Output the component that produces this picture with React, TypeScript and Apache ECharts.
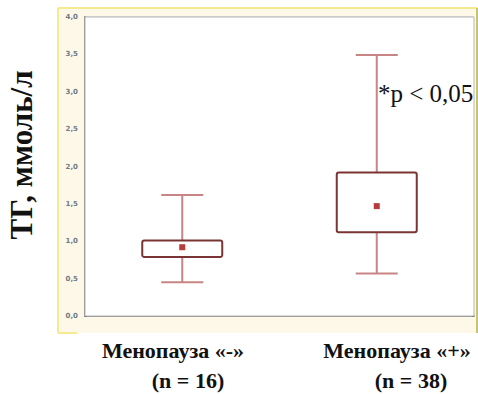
import React, { useEffect, useRef } from "react";
import * as echarts from "echarts";

// Groups on the x axis
const categories = ["Менопауза «-»", "Менопауза «+»"];
const groupSizes = ["(n = 16)", "(n = 38)"];

// Per group: lower whisker, box bottom, mean, box top, upper whisker (ммоль/л)
const whiskerLow = [0.45, 0.57];
const boxLow = [0.79, 1.12];
const meanValues = [0.92, 1.47];
const boxHigh = [1.01, 1.92];
const whiskerHigh = [1.62, 3.49];

// Y axis range
const yMin = 0;
const yMax = 4;
const yStep = 0.5;

const annotation = "*p < 0,05";
const yTitle = "ТГ, ммоль/л";

const SERIF = "'Liberation Serif', 'DejaVu Serif', 'Times New Roman', serif";

export default function App() {
  const ref = useRef<HTMLDivElement>(null);

  useEffect(() => {
    if (!ref.current) return;
    const chart = echarts.init(ref.current, undefined, { renderer: "svg" });

    const data = categories.map((_, i) => [
      i,
      whiskerLow[i],
      boxLow[i],
      meanValues[i],
      boxHigh[i],
      whiskerHigh[i],
    ]);

    const whiskerStyle = { stroke: "#c98585", lineWidth: 2 };

    const renderItem = (params: any, api: any) => {
      const c = api.value(0);
      const [x, yLo] = api.coord([c, api.value(1)]);
      const [, yQ1] = api.coord([c, api.value(2)]);
      const [, yMean] = api.coord([c, api.value(3)]);
      const [, yQ3] = api.coord([c, api.value(4)]);
      const [, yHi] = api.coord([c, api.value(5)]);
      const boxW = 80;
      const capW = 42;
      return {
        type: "group",
        children: [
          { type: "line", shape: { x1: x, y1: yHi, x2: x, y2: yQ3 }, style: whiskerStyle },
          { type: "line", shape: { x1: x, y1: yQ1, x2: x, y2: yLo }, style: whiskerStyle },
          { type: "line", shape: { x1: x - capW / 2, y1: yHi, x2: x + capW / 2, y2: yHi }, style: whiskerStyle },
          { type: "line", shape: { x1: x - capW / 2, y1: yLo, x2: x + capW / 2, y2: yLo }, style: whiskerStyle },
          {
            type: "rect",
            shape: { x: x - boxW / 2, y: yQ3, width: boxW, height: yQ1 - yQ3, r: 2 },
            style: { fill: "#ffffff", stroke: "#7a3434", lineWidth: 2 },
          },
          {
            type: "rect",
            shape: { x: x - 3, y: yMean - 3, width: 6, height: 6 },
            style: { fill: "#b83a3a" },
          },
        ],
      };
    };

    // Text positions of the two-line group captions
    const captionPos = [
      { x1: 173, x2: 188 },
      { x1: 397, x2: 411 },
    ];

    const captionTexts: any[] = [];
    categories.forEach((name, i) => {
      captionTexts.push({
        type: "text",
        x: captionPos[i].x1,
        y: 350,
        style: {
          text: name,
          font: `bold 22px ${SERIF}`,
          fill: "#111",
          align: "center",
          verticalAlign: "middle",
        },
      });
      captionTexts.push({
        type: "text",
        x: captionPos[i].x2,
        y: 380,
        style: {
          text: groupSizes[i],
          font: `bold 22px ${SERIF}`,
          fill: "#111",
          align: "center",
          verticalAlign: "middle",
        },
      });
    });

    chart.setOption({
      animation: false,
      backgroundColor: "#ffffff",
      grid: {
        left: 85,
        right: 4,
        top: 17,
        bottom: 78,
        show: true,
        backgroundColor: "#ffffff",
        borderColor: "#b4b4b4",
        borderWidth: 1,
        z: 2,
      },
      xAxis: {
        type: "category",
        data: categories,
        axisLine: { lineStyle: { color: "#8c8c8c", width: 2 } },
        axisTick: { alignWithLabel: true, length: 4, lineStyle: { color: "#b0b0b0" } },
        axisLabel: { show: false },
        splitLine: { show: false },
      },
      yAxis: [
        {
          type: "value",
          min: yMin,
          max: yMax,
          interval: yStep,
          axisLine: { show: true, lineStyle: { color: "#858585", width: 2 } },
          axisTick: { show: true, inside: true, length: 2, lineStyle: { color: "#555" } },
          axisLabel: {
            margin: 7,
            fontSize: 7,
            fontWeight: "bold",
            color: "#6f7a86",
            fontFamily: "'DejaVu Sans', sans-serif",
            formatter: (v: number) => v.toFixed(1).replace(".", ","),
          },
          splitLine: { lineStyle: { color: "#e3e3e3", width: 2 } },
        },
        {
          type: "value",
          position: "right",
          min: yMin,
          max: yMax,
          interval: yStep,
          axisLine: { show: false },
          axisTick: { show: true, inside: true, length: 2, lineStyle: { color: "#555" } },
          axisLabel: { show: false },
          splitLine: { show: false },
        },
      ],
      series: [
        {
          type: "custom",
          renderItem,
          data,
          encode: { x: 0, y: [1, 2, 3, 4, 5] },
          z: 5,
          clip: false,
        },
      ],
      graphic: [
        // beige panel behind the plot
        {
          type: "rect",
          z: -10,
          shape: { x: 58, y: 8, width: 419, height: 325 },
          style: { fill: "#fdf8e7" },
        },
        {
          type: "line",
          z: -9,
          shape: { x1: 58, y1: 8, x2: 477, y2: 8 },
          style: { stroke: "#f6ea8e", lineWidth: 2 },
        },
        {
          type: "line",
          z: -9,
          shape: { x1: 58, y1: 8, x2: 58, y2: 333 },
          style: { stroke: "#f6ea8e", lineWidth: 2 },
        },
        {
          type: "line",
          z: -9,
          shape: { x1: 58, y1: 333, x2: 77, y2: 333 },
          style: { stroke: "#f6ea8e", lineWidth: 2 },
        },
        {
          type: "line",
          z: -9,
          shape: { x1: 477, y1: 8, x2: 477, y2: 333 },
          style: { stroke: "#c4c56c", lineWidth: 2 },
        },
        {
          type: "text",
          z: 20,
          x: 21,
          y: 155,
          rotation: Math.PI / 2,
          style: {
            text: yTitle,
            font: `bold 31px ${SERIF}`,
            fill: "#111",
            align: "center",
            verticalAlign: "middle",
          },
        },
        {
          type: "text",
          z: 20,
          x: 378,
          y: 93,
          style: {
            text: annotation,
            font: `25px ${SERIF}`,
            fill: "#111",
            align: "left",
            verticalAlign: "middle",
          },
        },
        ...captionTexts,
      ],
    });

    return () => chart.dispose();
  }, []);

  return <div ref={ref} style={{ width: 478, height: 394, position: "absolute", left: 0, top: 0 }} />;
}
